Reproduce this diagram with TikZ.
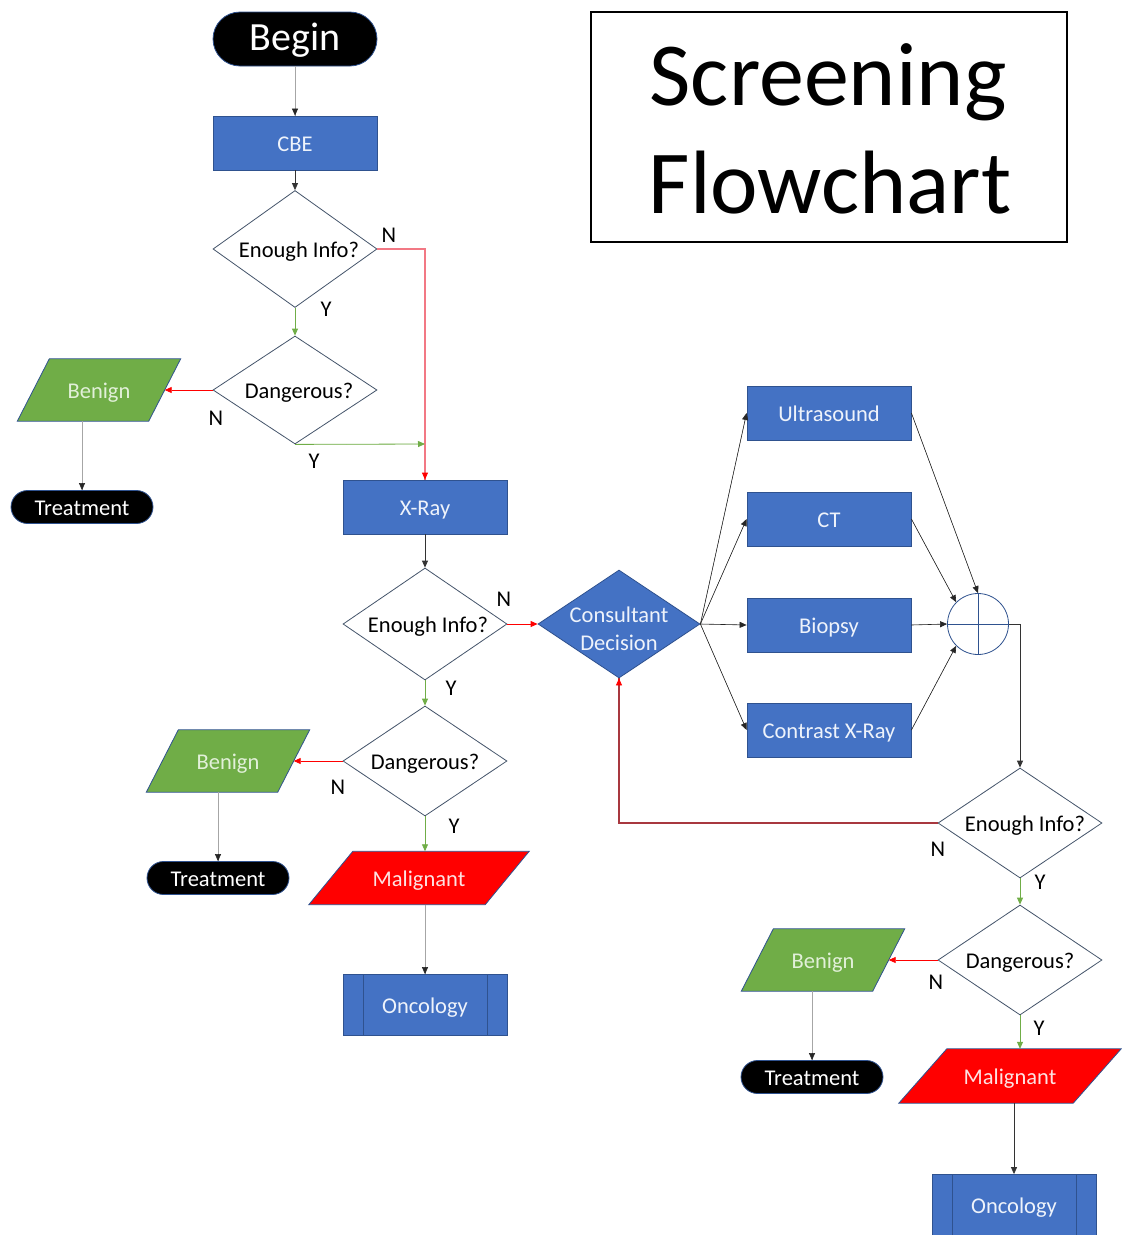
\documentclass[tikz,border=0pt]{standalone}
\usepackage{fontspec}
\setmainfont{Carlito}
\usetikzlibrary{shapes.geometric,arrows.meta,calc,backgrounds}
\definecolor{oblue}{HTML}{4472C4}
\definecolor{oborder}{HTML}{2F528F}
\definecolor{ogreen}{HTML}{70AD47}
\definecolor{dmd}{HTML}{44546A}
\definecolor{pinkline}{HTML}{F27884}
\definecolor{darkredline}{HTML}{A8383F}
\definecolor{lgrey}{HTML}{A6A6A6}
\definecolor{gtext}{HTML}{E2F0D9}
\definecolor{rtext}{HTML}{FDE2E2}
\definecolor{btext}{HTML}{EEF3FB}
\newcommand\drawpara[3]{%
  \begin{scope}[on background layer]
    \filldraw[fill=#3, draw=oborder, line width=0.8pt]
      ($(#1.north west)+(#2,0)$) -- ($(#1.north east)+(#2,0)$) --
      ($(#1.south east)-(#2,0)$) -- ($(#1.south west)-(#2,0)$) -- cycle;
  \end{scope}}
\begin{document}
\begin{tikzpicture}[x=1pt,y=-1pt,
  txt/.style={font=\fontsize{22.5}{27}\selectfont, text height=19.5pt, text depth=2.5pt},
  bluebox/.style={rectangle, draw=oborder, fill=oblue, text=btext, txt,
    minimum width=164, minimum height=54, inner sep=0, line width=0.8pt},
  procbox/.style={bluebox, minimum height=61,
    path picture={\draw[oborder, line width=0.8pt]
      ([xshift=20pt]path picture bounding box.north west) -- ([xshift=20pt]path picture bounding box.south west)
      ([xshift=-20pt]path picture bounding box.north east) -- ([xshift=-20pt]path picture bounding box.south east);}},
  stadium/.style={rectangle, draw=oborder, fill=black, text=white, txt,
    minimum width=142, minimum height=33, rounded corners=16.5, inner sep=0, line width=0.8pt},
  decision/.style={diamond, aspect=1.5, draw=dmd, fill=white, txt,
    minimum width=164, minimum height=110, inner sep=0, line width=0.8pt},
  paranode/.style={rectangle, draw=none, txt, inner sep=0, minimum width=131, minimum height=62},
  yn/.style={font=\fontsize{22.5}{27}\selectfont, inner sep=0},
  conn/.style={line width=0.8pt},
  tipk/.style={-{Triangle[length=7pt,width=6pt]}},
  blk/.style={conn, draw=black!80, tipk},
  gry/.style={conn, draw=lgrey},
  grn/.style={conn, draw=ogreen, fill=ogreen, tipk},
  rd/.style={conn, draw=red, fill=red, tipk},
  pnk/.style={line width=1.2pt, draw=pinkline},
  drk/.style={line width=1.1pt, draw=darkredline},
  thin/.style={line width=0.6pt, draw=black!85, fill=black, tipk},
]
\useasboundingbox (0,0) rectangle (1122,1235);

% title
\node[draw=black, line width=1.2pt, minimum width=476, minimum height=230, inner sep=0] (tbox) at (829,127) {};
\node[anchor=base, inner sep=0, font=\fontsize{90}{108}\selectfont] (t1) at (828,105) {Screening};
\node[anchor=base, inner sep=0, font=\fontsize{90}{108}\selectfont] (t2) at (830,213) {Flowchart};

% left column
\node[stadium, minimum width=164, minimum height=54, rounded corners=27, font=\fontsize{40}{48}\selectfont, text height=31pt, text depth=8pt] (begin) at (295,39) {Begin};
\node[bluebox] (cbe) at (295,143) {CBE};
\node[decision, minimum height=117] (d1) at (295,249) {\hspace*{8pt}Enough Info?};
\node[decision, minimum height=108] (d2) at (295,390) {\hspace*{8pt}Dangerous?};
\node[paranode, text=gtext] (ben1) at (99,390) {Benign};
\drawpara{ben1}{16}{ogreen}
\node[stadium] (tr1) at (82,507) {Treatment};

\node[bluebox] (xray) at (425,507) {X-Ray};
\node[decision, minimum height=112] (e2) at (425,624) {\hspace*{6pt}Enough Info?};
\node[diamond, draw=oborder, fill=oblue, minimum width=162, minimum height=108, inner sep=0, line width=0.8pt] (cons) at (619,624) {};
\node[font=\fontsize{22.5}{28}\selectfont, text=btext, align=center, inner sep=0] (constxt) at (619,629) {Consultant\\Decision};
\node[decision] (g2) at (425,761) {Dangerous?};
\node[paranode, text=gtext] (ben2) at (228,761) {Benign};
\drawpara{ben2}{16}{ogreen}
\node[stadium] (tr2) at (218,878) {Treatment};
\node[paranode, text=rtext, minimum width=176, minimum height=53] (mal2) at (419,878) {Malignant};
\drawpara{mal2}{22}{red}
\node[procbox] (onc2) at (425,1005) {Oncology};

% tests
\node[bluebox] (us) at (829,413) {Ultrasound};
\node[bluebox] (ct) at (829,519) {CT};
\node[bluebox] (bio) at (829,625) {Biopsy};
\node[bluebox] (cxr) at (829,730) {Contrast X-Ray};
\node[circle, draw=oborder, fill=white, minimum size=61, inner sep=0, line width=0.8pt,
  path picture={\draw[oborder, line width=0.8pt]
    (path picture bounding box.north) -- (path picture bounding box.south)
    (path picture bounding box.west) -- (path picture bounding box.east);}] (sum) at (978,624) {};

% right column
\node[decision] (e3) at (1020,823) {\hspace*{10pt}Enough Info?};
\node[decision] (g3) at (1020,960) {Dangerous?};
\node[paranode, text=gtext] (ben3) at (823,960) {Benign};
\drawpara{ben3}{16}{ogreen}
\node[stadium] (tr3) at (812,1077) {Treatment};
\node[paranode, text=rtext, minimum width=174, minimum height=54] (mal3) at (1010,1076) {Malignant};
\drawpara{mal3}{24}{red}
\node[procbox] (onc3) at (1014,1205) {Oncology};

% labels
\node[yn] (l1) at (389,235) {N};
\node[yn] (l2) at (326,309) {Y};
\node[yn] (l3) at (216,418) {N};
\node[yn] (l4) at (314,461) {Y};
\node[yn] (l5) at (504,599) {N};
\node[yn] (l6) at (451,688) {Y};
\node[yn] (l7) at (338,787) {N};
\node[yn] (l8) at (454,826) {Y};
\node[yn] (l9) at (938,849) {N};
\node[yn] (l10) at (1040,882) {Y};
\node[yn] (l11) at (936,982) {N};
\node[yn] (l12) at (1039,1028) {Y};

% connectors
\coordinate (j1) at (425,444);
\draw[gry] (begin.south) -- (cbe.north);
\draw[thin] ($(cbe.north)+(0,-2)$) -- (cbe.north);
\draw[blk] (cbe.south) -- (d1.north);
\draw[grn] (d1.south) -- (d2.north);
\draw[pnk] (d1.east) -- (d1.east -| xray.north) -- (xray.north);
\draw[rd] ($(xray.north)+(0,-2)$) -- (xray.north);
\draw[rd] (d2.west) -- (ben1.east);
\draw[grn] (d2.south) -- (j1);
\draw[gry] (tr1.north |- ben1.south) -- (tr1.north);
\draw[thin] ($(tr1.north)+(0,-2)$) -- (tr1.north);
\draw[blk] (xray.south) -- (e2.north);
\draw[rd] (e2.east) -- (cons.west);
\draw[grn] (e2.south) -- (g2.north);
\draw[rd] (g2.west) -- (ben2.east);
\draw[gry] (tr2.north |- ben2.south) -- (tr2.north);
\draw[thin] ($(tr2.north)+(0,-2)$) -- (tr2.north);
\draw[grn] (g2.south) -- (g2.south |- mal2.north);
\draw[gry] (onc2.north |- mal2.south) -- (onc2.north);
\draw[thin] ($(onc2.north)+(0,-2)$) -- (onc2.north);
\foreach \t in {us,ct,bio,cxr} \draw[thin] (cons.east) -- (\t.west);
\draw[thin] (us.east) -- (sum.north);
\draw[thin] (ct.east) -- (sum.135);
\draw[thin] (bio.east) -- (sum.west);
\draw[thin] (cxr.east) -- (sum.225);
\draw[blk] (sum.east) -- (sum.east -| e3.north) -- (e3.north);
\draw[drk] (e3.west) -- (e3.west -| cons.south) -- (cons.south);
\draw[rd] ($(cons.south)+(0,2)$) -- (cons.south);
\draw[grn] (e3.south) -- (g3.north);
\draw[rd] (g3.west) -- (ben3.east);
\draw[gry] (tr3.north |- ben3.south) -- (tr3.north);
\draw[thin] ($(tr3.north)+(0,-2)$) -- (tr3.north);
\draw[grn] (g3.south) -- (g3.south |- mal3.north);
\draw[blk] (onc3.north |- mal3.south) -- (onc3.north);
\end{tikzpicture}
\end{document}
